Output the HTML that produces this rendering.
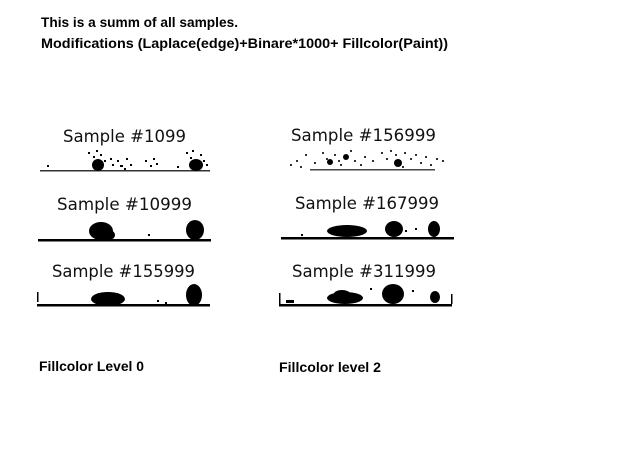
<!DOCTYPE html>
<html><head><meta charset="utf-8"><style>
html,body{margin:0;padding:0;background:#fff;}
svg{display:block;}
.h{font-family:"Liberation Sans",sans-serif;font-weight:bold;font-size:13.5px;fill:#000;}
.t{font-family:"DejaVu Sans","Liberation Sans",sans-serif;font-size:17px;fill:#111;}
</style></head><body>
<svg width="640" height="476" viewBox="0 0 640 476">
<text class="h" x="41" y="27" textLength="197" lengthAdjust="spacingAndGlyphs">This is a summ of all samples.</text>
<text class="h" x="41" y="48" textLength="407" lengthAdjust="spacingAndGlyphs">Modifications (Laplace(edge)+Binare*1000+ Fillcolor(Paint))</text>

<text class="t" x="63" y="142" textLength="123" lengthAdjust="spacingAndGlyphs">Sample #1099</text>
<text class="t" x="57" y="210" textLength="135" lengthAdjust="spacingAndGlyphs">Sample #10999</text>
<text class="t" x="52" y="277" textLength="143" lengthAdjust="spacingAndGlyphs">Sample #155999</text>
<text class="t" x="291" y="141" textLength="145" lengthAdjust="spacingAndGlyphs">Sample #156999</text>
<text class="t" x="295" y="209" textLength="144" lengthAdjust="spacingAndGlyphs">Sample #167999</text>
<text class="t" x="292" y="277" textLength="144" lengthAdjust="spacingAndGlyphs">Sample #311999</text>

<g fill="#000">
<rect x="40" y="170" width="170" height="1.5" fill="#333"/>
<ellipse cx="98" cy="165" rx="6" ry="6"/>
<ellipse cx="196" cy="165" rx="7" ry="6"/>
<g fill="#000">
<rect x="88" y="152" width="2" height="2"/><rect x="93" y="156" width="2" height="2"/><rect x="100" y="154" width="2" height="2"/><rect x="104" y="160" width="2" height="2"/><rect x="112" y="164" width="2" height="2"/><rect x="117" y="160" width="2" height="2"/><rect x="120" y="165" width="3" height="2"/><rect x="126" y="158" width="2" height="2"/><rect x="130" y="164" width="2" height="2"/><rect x="145" y="160" width="2" height="2"/><rect x="150" y="165" width="2" height="2"/><rect x="153" y="158" width="2" height="2"/><rect x="156" y="163" width="2" height="2"/><rect x="186" y="152" width="2" height="2"/><rect x="190" y="157" width="2" height="2"/><rect x="200" y="154" width="2" height="2"/><rect x="203" y="160" width="2" height="2"/><rect x="47" y="165" width="2" height="2"/><rect x="177" y="166" width="2" height="2"/><rect x="110" y="158" width="2" height="2"/><rect x="124" y="168" width="2" height="2"/><rect x="96" y="150" width="2" height="2"/><rect x="192" y="150" width="2" height="2"/><rect x="206" y="164" width="2" height="2"/>
</g></g>

<g fill="#000">
<rect x="38" y="239" width="173" height="2.5"/>
<ellipse cx="101" cy="231" rx="12" ry="9"/>
<ellipse cx="109" cy="235" rx="6" ry="5"/>
<ellipse cx="195" cy="230" rx="9" ry="10"/>
<rect x="148" y="234" width="2" height="2"/>
</g>

<g fill="#000">
<rect x="37" y="304" width="173" height="2.5"/>
<ellipse cx="108" cy="299" rx="17" ry="7"/>
<ellipse cx="194" cy="295" rx="8" ry="11"/>
<rect x="37" y="292" width="1.5" height="10"/>
<rect x="157" y="300" width="2" height="2"/><rect x="165" y="302" width="2" height="2"/>
</g>

<g fill="#000">
<rect x="310" y="169" width="125" height="1.5" fill="#444"/>
<ellipse cx="330" cy="162" rx="3" ry="3"/>
<ellipse cx="346" cy="157" rx="3" ry="3"/>
<ellipse cx="398" cy="163" rx="4" ry="4"/>
<g fill="#333">
<rect x="290" y="164" width="2" height="2"/><rect x="296" y="160" width="2" height="2"/><rect x="300" y="166" width="2" height="2"/><rect x="305" y="154" width="2" height="2"/><rect x="322" y="152" width="2" height="2"/><rect x="326" y="158" width="2" height="2"/><rect x="334" y="154" width="2" height="2"/><rect x="340" y="164" width="2" height="2"/><rect x="350" y="150" width="2" height="2"/><rect x="354" y="160" width="2" height="2"/><rect x="360" y="164" width="2" height="2"/><rect x="364" y="156" width="2" height="2"/><rect x="381" y="152" width="2" height="2"/><rect x="386" y="158" width="2" height="2"/><rect x="390" y="150" width="2" height="2"/><rect x="395" y="154" width="2" height="2"/><rect x="404" y="152" width="2" height="2"/><rect x="410" y="158" width="2" height="2"/><rect x="415" y="154" width="2" height="2"/><rect x="420" y="162" width="2" height="2"/><rect x="425" y="156" width="2" height="2"/><rect x="430" y="164" width="2" height="2"/><rect x="436" y="158" width="2" height="2"/><rect x="442" y="160" width="2" height="2"/><rect x="314" y="162" width="2" height="2"/><rect x="372" y="160" width="2" height="2"/><rect x="338" y="160" width="2" height="2"/><rect x="402" y="166" width="2" height="2"/>
</g></g>

<g fill="#000">
<rect x="281" y="237" width="173" height="2.5"/>
<ellipse cx="347" cy="231" rx="20" ry="6"/>
<ellipse cx="394" cy="229" rx="9" ry="8"/>
<ellipse cx="434" cy="229" rx="6" ry="8"/>
<rect x="405" y="230" width="2" height="2"/><rect x="415" y="228" width="2" height="2"/><rect x="301" y="234" width="2" height="2"/>
</g>

<g fill="#000">
<rect x="279" y="304" width="173" height="2.5"/>
<ellipse cx="345" cy="298" rx="18" ry="6"/>
<ellipse cx="342" cy="294" rx="8" ry="4"/>
<ellipse cx="393" cy="294" rx="11" ry="10"/>
<ellipse cx="435" cy="297" rx="5" ry="6"/>
<rect x="279" y="293" width="1.5" height="11"/><rect x="451" y="294" width="1.5" height="10"/>
<rect x="286" y="300" width="8" height="3"/><rect x="370" y="288" width="2" height="2"/><rect x="412" y="290" width="2" height="2"/>
</g>

<text class="h" x="39" y="371" textLength="105" lengthAdjust="spacingAndGlyphs">Fillcolor Level 0</text>
<text class="h" x="279" y="372" textLength="102" lengthAdjust="spacingAndGlyphs">Fillcolor level 2</text>
</svg>
</body></html>
